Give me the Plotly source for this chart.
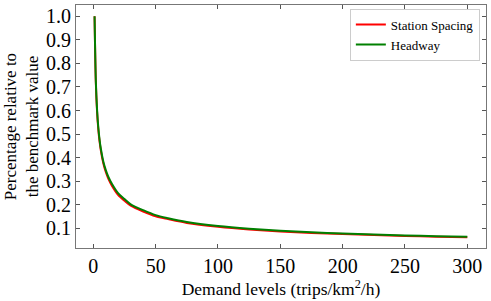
import plotly.graph_objects as go

demand = [1, 2, 3, 4, 5, 6, 8, 10, 12, 15, 20, 25, 30, 40, 50, 60, 75, 100,
          125, 150, 175, 200, 225, 250, 275, 300]
station_spacing = [1.0, 0.72, 0.595, 0.52, 0.469, 0.431, 0.376, 0.339, 0.311, 0.280,
                   0.241, 0.217, 0.196, 0.171, 0.151, 0.139, 0.123, 0.107, 0.0955,
                   0.087, 0.0805, 0.0755, 0.0713, 0.0678, 0.0647, 0.062]
headway = [1.0, 0.727, 0.603, 0.528, 0.477, 0.439, 0.384, 0.347, 0.319, 0.288,
           0.248, 0.224, 0.202, 0.177, 0.156, 0.143, 0.127, 0.110, 0.0985,
           0.0898, 0.083, 0.0778, 0.0735, 0.0699, 0.0667, 0.064]
x_ticks = [0, 50, 100, 150, 200, 250, 300]
y_ticks = [0.1, 0.2, 0.3, 0.4, 0.5, 0.6, 0.7, 0.8, 0.9, 1.0]

FONT = "Liberation Serif"

fig = go.Figure()
fig.add_trace(go.Scatter(x=demand, y=station_spacing, mode="lines", name="Station Spacing",
                         line=dict(color="#ff0000", width=2, shape="spline", smoothing=0.8)))
fig.add_trace(go.Scatter(x=demand, y=headway, mode="lines", name="Headway",
                         line=dict(color="#008000", width=2, shape="spline", smoothing=0.8)))

axis_common = dict(showline=True, linecolor="#777777", linewidth=1.2, mirror="ticks",
                   ticks="inside", ticklen=4, tickcolor="#555555", tickwidth=1,
                   showgrid=False, zeroline=False,
                   tickfont=dict(family=FONT, size=20, color="black"))

fig.update_layout(
    width=491, height=301,
    margin=dict(l=76, r=5, t=5, b=53),
    paper_bgcolor="white", plot_bgcolor="white",
    font=dict(family=FONT, color="black"),
    xaxis=dict(range=[-13.9, 315], tickvals=x_ticks, ticktext=[str(v) for v in x_ticks],
               title=dict(text="Demand levels (trips/km<sup>2</sup>/h)", font=dict(family=FONT, size=17.5),
                          standoff=1),
               **axis_common),
    yaxis=dict(range=[0.0165, 1.048], tickvals=y_ticks, ticktext=[f"{v:.1f}" for v in y_ticks],
               title=dict(text="Percentage relative to<br>the benchmark value",
                          font=dict(family=FONT, size=17), standoff=2),
               **axis_common),
    legend=dict(x=0.985, y=0.985, xanchor="right", yanchor="top",
                bgcolor="white", bordercolor="#cccccc", borderwidth=1, itemwidth=30,
                font=dict(family=FONT, size=13, color="black")),
    showlegend=True,
)

fig.write_html("out.html", config={"displayModeBar": False},
               post_script="document.body.style.margin='0';document.body.style.padding='0';")
